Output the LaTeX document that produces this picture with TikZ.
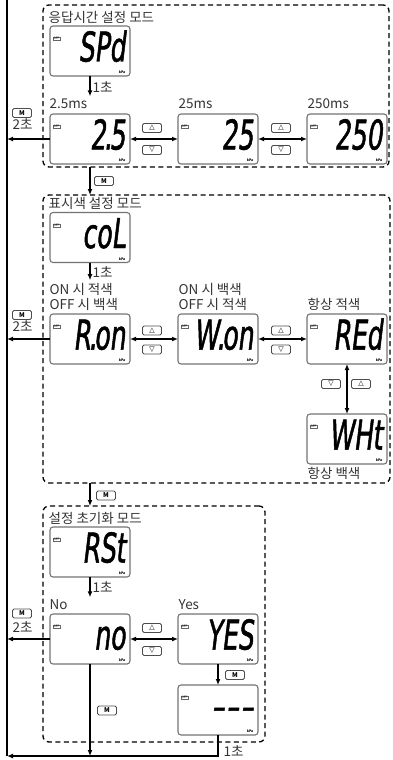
\documentclass[tikz,border=0pt]{standalone}
\usepackage{fontspec}
\setmainfont{Noto Sans CJK KR}
\newfontfamily\segfont{DejaVu Sans}[FakeSlant=0.12,FakeStretch=0.61,FakeBold=1.2]
\newfontfamily\symfont{DejaVu Sans}
\usetikzlibrary{arrows.meta}

\tikzset{
  lcdbox/.style={draw=black!55, line width=1.1pt, rounded corners=3pt,
    minimum width=80pt, minimum height=50pt, inner sep=0pt, outer sep=0pt},
  segtext/.style={font=\segfont\fontsize{41}{41}\selectfont, inner sep=0pt,
    text depth=0pt},
  tag/.style={font=\fontsize{3.2}{3.2}\selectfont, inner sep=0.4pt,
    draw=black!60, line width=0.3pt},
  unit/.style={font=\bfseries\fontsize{3.4}{3.4}\selectfont, inner sep=0pt},
  key/.style={draw=black!70, line width=0.8pt, rounded corners=1.5pt,
    minimum width=19pt, minimum height=9pt, inner sep=0pt,
    font=\symfont\fontsize{7}{7}\selectfont},
  mkey/.style={key, font=\bfseries\fontsize{6.5}{6.5}\selectfont},
  modebox/.style={draw, dash pattern=on 5pt off 3.5pt, line width=1.3pt,
    rounded corners=6pt, inner sep=0pt, outer sep=0pt},
  lbl/.style={anchor=west, inner sep=0pt, font=\fontsize{13.5}{13.5}\selectfont,
    text=black!80},
}
\newcommand\pt{\kern-2pt.\kern-2.5pt}

% display: name, x, y, digits
\newcommand\lcd[4]{%
  \node[lcdbox] (#1) at (#2,#3) {};
  \node[segtext, anchor=base east] (#1v) at ([xshift=-4pt,yshift=14.5pt]#1.south east) {#4};
  \node[tag, anchor=north west] (#1s) at ([xshift=3pt,yshift=-11pt]#1.north west) {OFF};
  \node[unit, anchor=south east] (#1u) at ([xshift=-4pt,yshift=1.6pt]#1.south east) {kPa};
}

\begin{document}
\begin{tikzpicture}[x=1pt, y=-1pt, >={Latex[length=6pt,width=5pt]}, line width=1.4pt]
  \useasboundingbox (0,0) rectangle (393,760);
  \coordinate (railtop) at (7,0);
  \coordinate (railbot) at (7,756);

  % mode frames
  \node[modebox, minimum width=346pt, minimum height=162pt] (mode1) at (216,86) {};
  \node[modebox, minimum width=347pt, minimum height=288pt] (mode2) at (216.5,339) {};
  \node[modebox, minimum width=222pt, minimum height=236pt] (mode3) at (154,624) {};

  \node[lbl] (title1) at (48,17) {응답시간 설정 모드};
  \node[lbl] (title2) at (48,203) {표시색 설정 모드};
  \node[lbl] (title3) at (48,518) {설정 초기화 모드};

  % displays
  \lcd{spd}{90}{51}{SPd}
  \lcd{ms2}{90}{139}{2\pt5}
  \lcd{ms25}{218}{139}{25}
  \lcd{ms250}{347}{139}{250}
  \lcd{col}{90}{237.5}{coL}
  \lcd{ron}{90}{339}{R\pt on}
  \lcd{won}{218}{339}{W\pt on}
  \lcd{red}{347}{339}{REd}
  \lcd{wht}{347}{439}{WHt}
  \lcd{rst}{90}{552}{RSt}
  \lcd{no}{90}{639}{no}
  \lcd{yes}{218}{639}{YES}
  \lcd{clr}{218}{710}{–\kern2pt–\kern2pt–}

  % texts
  \node[lbl] (ms2l) at (49,104) {2.5ms};
  \node[lbl] (ms25l) at (178,104) {25ms};
  \node[lbl] (ms250l) at (307,104) {250ms};
  \node[lbl] (ronl1) at (49,289) {ON 시 적색};
  \node[lbl] (ronl2) at (49,304) {OFF 시 백색};
  \node[lbl] (wonl1) at (178,289) {ON 시 백색};
  \node[lbl] (wonl2) at (178,304) {OFF 시 적색};
  \node[lbl] (redl) at (307,304) {항상 적색};
  \node[lbl] (whtl) at (307,473) {항상 백색};
  \node[lbl] (nol) at (49,605) {No};
  \node[lbl] (yesl) at (178,605) {Yes};
  \node[lbl] (sec1) at (92,87) {1초};
  \node[lbl] (sec2) at (92,272) {1초};
  \node[lbl] (sec3) at (92,587) {1초};
  \node[lbl] (sec4) at (223,751) {1초};
  \node[lbl] (hold1) at (12,124) {2초};
  \node[lbl] (hold2) at (12,326) {2초};
  \node[lbl] (hold3) at (12,627) {2초};

  % keys
  \node[key] (up1) at (152,128) {△};
  \node[key] (dn1) at (152,150) {▽};
  \node[key] (up2) at (281,128) {△};
  \node[key] (dn2) at (281,150) {▽};
  \node[key] (up3) at (152,330.5) {△};
  \node[key] (dn3) at (152,349.5) {▽};
  \node[key] (up4) at (281,330.5) {△};
  \node[key] (dn4) at (281,349.5) {▽};
  \node[key] (dn5) at (331,384) {▽};
  \node[key] (up5) at (361,384) {△};
  \node[key] (up6) at (152,628) {△};
  \node[key] (dn6) at (152,651) {▽};
  \node[mkey] (m1) at (22,113) {M};
  \node[mkey] (m2) at (104,181) {M};
  \node[mkey] (m3) at (22,315) {M};
  \node[mkey] (m4) at (106,495.5) {M};
  \node[mkey] (m5) at (22,613.5) {M};
  \node[mkey] (m6) at (235,675) {M};
  \node[mkey] (m7) at (107,710.5) {M};

  % connectors
  \draw (railtop) -- (railbot);
  \draw[->] (spd) -- ([yshift=2pt]ms2l.north -| spd);
  \draw[<->] (ms2) -- (ms25);
  \draw[<->] (ms25) -- (ms250);
  \draw[->] (ms2.west) -- (ms2.west -| railtop);
  \draw[->] (mode1.south -| spd) -- (mode2.north -| spd);

  \draw[->] (col) -- ([yshift=2pt]ronl1.north -| col);
  \draw[<->] (ron) -- (won);
  \draw[<->] (won) -- (red);
  \draw[<->] (red) -- (wht);
  \draw[->] (ron.west) -- (ron.west -| railtop);
  \draw[->] (mode2.south -| rst) -- (mode3.north -| rst);

  \draw[->] (rst) -- ([yshift=2pt]nol.north -| rst);
  \draw[<->] (no) -- (yes);
  \draw[->] (yes) -- (clr);
  \draw[->] (no.west) -- (no.west -| railtop);
  \draw[->] (no) -- (no |- railbot);
  \draw[->] (clr) |- (railbot);
\end{tikzpicture}
\end{document}
